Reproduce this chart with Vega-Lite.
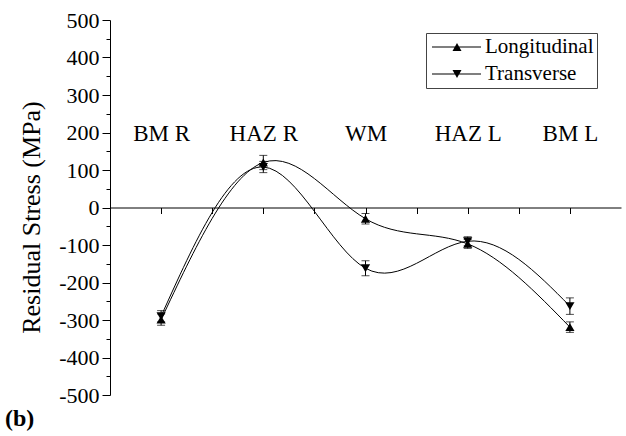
{
  "$schema": "https://vega.github.io/schema/vega-lite/v6.json",
  "width": 511,
  "height": 375,
  "autosize": {"type": "none"},
  "padding": {"left": 110, "top": 20, "right": 5, "bottom": 41},
  "background": "white",
  "title": {
    "text": "(b)",
    "orient": "bottom",
    "anchor": "start",
    "frame": "group",
    "font": "Liberation Serif",
    "fontSize": 24,
    "fontWeight": "bold",
    "color": "black",
    "dx": -105,
    "offset": 1
  },
  "config": {
    "view": {"stroke": null},
    "axis": {
      "domainColor": "black",
      "tickColor": "black",
      "labelColor": "black",
      "titleColor": "black",
      "grid": false,
      "labelFont": "Liberation Serif",
      "titleFont": "Liberation Serif"
    }
  },
  "data": {
    "values": [
      {"pos": 1, "series": "Longitudinal", "value": -299, "err": 15},
      {"pos": 2, "series": "Longitudinal", "value": 120, "err": 19},
      {"pos": 3, "series": "Longitudinal", "value": -30, "err": 14},
      {"pos": 4, "series": "Longitudinal", "value": -97, "err": 12},
      {"pos": 5, "series": "Longitudinal", "value": -319, "err": 14},
      {"pos": 1, "series": "Transverse", "value": -290, "err": 15},
      {"pos": 2, "series": "Transverse", "value": 108, "err": 15},
      {"pos": 3, "series": "Transverse", "value": -162, "err": 20},
      {"pos": 4, "series": "Transverse", "value": -90, "err": 12},
      {"pos": 5, "series": "Transverse", "value": -263, "err": 22}
    ]
  },
  "encoding": {
    "x": {
      "field": "pos",
      "type": "quantitative",
      "scale": {"domain": [0.5, 5.5], "nice": false, "zero": false},
      "axis": {
        "orient": "bottom",
        "offset": -187.5,
        "title": null,
        "values": [1, 1.5, 2, 2.5, 3, 3.5, 4, 4.5, 5],
        "tickSize": 6,
        "labelExpr": "datum.value % 1 === 0 ? ['','BM R','HAZ R','WM','HAZ L','BM L'][datum.value] : ''",
        "labelFontSize": 23,
        "labelBaseline": "alphabetic",
        "labelPadding": -73,
        "labelFlush": false,
        "labelOverlap": false,
        "labelBound": false
      }
    },
    "y": {
      "field": "value",
      "type": "quantitative",
      "scale": {"domain": [-500, 500], "nice": false},
      "axis": {
        "title": "Residual Stress (MPa)",
        "titleFontSize": 26,
        "titleFontWeight": "normal",
        "titleX": -79,
        "titleY": 197,
        "titleBaseline": "middle",
        "titleAngle": -90,
        "values": [-500, -450, -400, -350, -300, -250, -200, -150, -100, -50, 0, 50, 100, 150, 200, 250, 300, 350, 400, 450, 500],
        "labelExpr": "datum.value % 100 === 0 ? '' + datum.value : ''",
        "tickSize": {"condition": {"test": "datum.value % 100 === 0", "value": 8}, "value": 4},
        "labelFontSize": 22,
        "labelPadding": 3,
        "labelOverlap": false,
        "labelBound": false,
        "labelFlush": false
      }
    }
  },
  "resolve": {"scale": {"shape": "independent"}, "legend": {"shape": "independent"}},
  "layer": [
    {
      "mark": {"type": "line", "interpolate": "natural", "color": "black", "strokeWidth": 1},
      "encoding": {
        "detail": {"field": "series"}
      }
    },
    {
      "mark": {"type": "errorbar", "ticks": {"size": 8, "color": "black"}, "color": "black", "thickness": 1},
      "encoding": {
        "yError": {"field": "err"}
      }
    },
    {
      "mark": {"type": "point", "filled": true, "color": "black", "opacity": 1, "size": 85},
      "encoding": {
        "shape": {
          "field": "series",
          "type": "nominal",
          "scale": {"domain": ["Longitudinal", "Transverse"], "range": ["triangle-up", "triangle-down"]},
          "legend": null
        }
      }
    },
    {
      "mark": {"type": "point", "filled": true, "color": "black", "opacity": 0, "size": 100},
      "encoding": {
        "shape": {
          "field": "series",
          "type": "nominal",
          "scale": {"domain": ["Longitudinal", "Transverse"], "range": ["M-1.6,-0.11H8.2V0.11H-1.6ZM2.5,0.8L3.4,-0.8L4.3,0.8Z", "M-1.6,-0.11H8.2V0.11H-1.6ZM2.5,-0.8L4.3,-0.8L3.4,0.8Z"]},
          "legend": {
            "title": null,
            "orient": "none",
            "legendX": 316,
            "legendY": 13,
            "padding": 3.5,
            "rowPadding": 5,
            "strokeColor": "#444444",
            "fillColor": "white",
            "labelFont": "Liberation Serif",
            "labelFontSize": 21,
            "labelColor": "black",
            "labelOffset": 34.5,
            "symbolSize": 100,
            "symbolOpacity": 1,
            "symbolFillColor": "black"
          }
        }
      }
    }
  ]
}
